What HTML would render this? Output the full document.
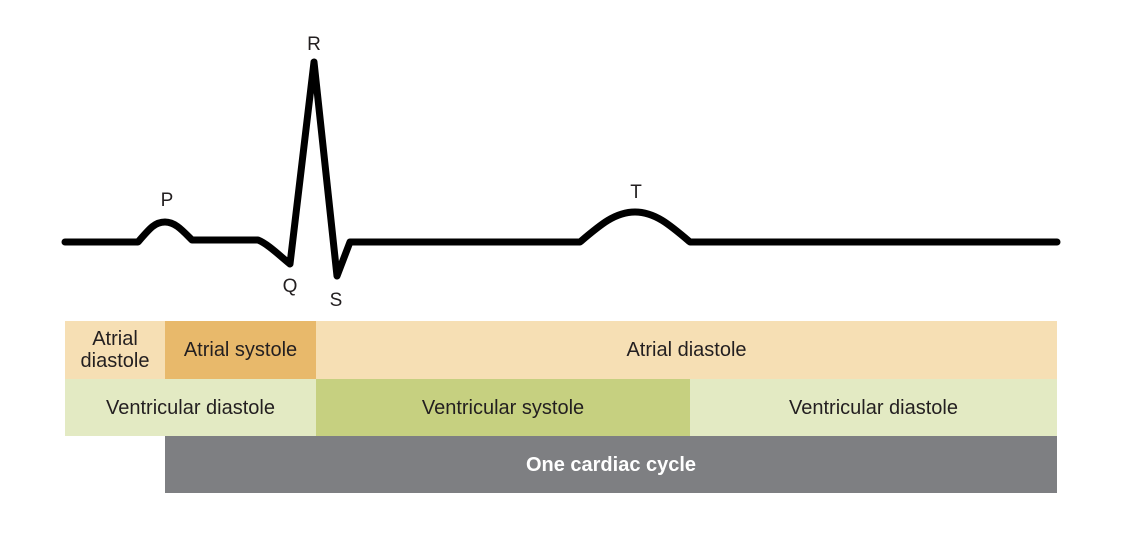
<!DOCTYPE html>
<html><head><style>
body{margin:0;width:1130px;height:534px;background:#fff;position:relative;overflow:hidden;font-family:"Liberation Sans",sans-serif;}
.b{position:absolute;display:flex;align-items:center;justify-content:center;text-align:center;font-size:20px;color:#231f20;line-height:22px;}
</style></head><body>
<svg width="1130" height="534" style="position:absolute;left:0;top:0">
<path d="M65,242 L138,242 C150,228 155,222 165,222 C175,222 182,230 192,240 L258,240 C268,244 280,256 290,264 L314,62 L337,276 L350,242 L580,242 C600,225 615,212 635,212 C655,212 670,225 690,242 L1057,242" fill="none" stroke="#000" stroke-width="7" stroke-linejoin="round" stroke-linecap="round"/>
<g font-family="Liberation Sans, sans-serif" font-size="19" fill="#231f20" text-anchor="middle">
<text x="314" y="50">R</text><text x="167" y="206">P</text><text x="636" y="198">T</text><text x="290" y="292">Q</text><text x="336" y="306">S</text>
</g>
</svg>
<div class="b" style="left:65px;top:321px;width:100px;height:58px;background:#f6dfb4">Atrial<br>diastole</div>
<div class="b" style="left:165px;top:321px;width:151px;height:58px;background:#e8b96b">Atrial systole</div>
<div class="b" style="left:316px;top:321px;width:741px;height:58px;background:#f6dfb4">Atrial diastole</div>
<div class="b" style="left:65px;top:379px;width:251px;height:57px;background:#e3eac3">Ventricular diastole</div>
<div class="b" style="left:316px;top:379px;width:374px;height:57px;background:#c6d080">Ventricular systole</div>
<div class="b" style="left:690px;top:379px;width:367px;height:57px;background:#e3eac3">Ventricular diastole</div>
<div class="b" style="left:165px;top:436px;width:892px;height:57px;background:#7e7f82;color:#fff;font-weight:bold">One cardiac cycle</div>
</body></html>
